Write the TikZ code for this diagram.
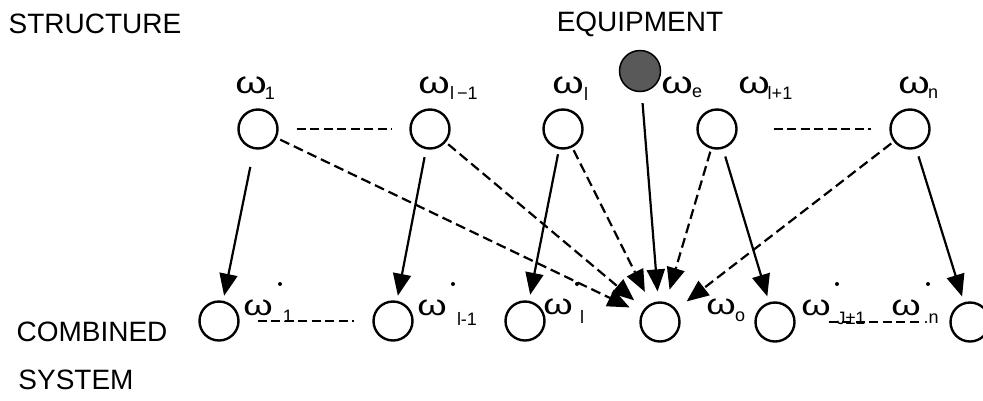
\documentclass[tikz,border=0pt]{standalone}
\usepackage{graphicx}
\usepackage{fontspec}
\setmainfont{Liberation Sans}
\usetikzlibrary{arrows.meta}
\newcommand{\wideomega}{\scalebox{1.3}[1]{ω}}
\begin{document}
\begin{tikzpicture}[x=1pt,y=-1pt,
  state/.style={circle,draw,line width=2.4pt,minimum size=39pt,inner sep=0pt},
  equip/.style={circle,draw,line width=1.5pt,fill=black!65,minimum size=41pt,inner sep=0pt},
  heading/.style={font=\fontsize{28}{30}\selectfont,inner sep=0pt},
  om/.style={font=\fontsize{31}{34}\selectfont,inner sep=0pt},
  omb/.style={font=\fontsize{29}{31}\selectfont,inner sep=0pt},
  sub/.style={font=\fontsize{18}{20}\selectfont,inner sep=0pt},
  dotmark/.style={circle,fill,inner sep=0pt,minimum size=4pt},
  link/.style={line width=2.2pt,-{Triangle[length=22pt,width=18pt]}},
  dlink/.style={link,dash pattern=on 10pt off 5pt},
  dline/.style={line width=2.4pt,dash pattern=on 9pt off 4.5pt}]

\path[use as bounding box] (0,0) rectangle (983,400);

% headings
\node[heading] (hs) at (95,24) {STRUCTURE};
\node[heading] (he) at (640,24) {EQUIPMENT};
\node[heading] (hc) at (92,332) {COMBINED};
\node[heading] (hy) at (76,380) {SYSTEM};

% structure states
\node[state] (t1) at (258,129) {};
\node[state] (t2) at (430,129) {};
\node[state] (t3) at (563,129) {};
\node[state] (t4) at (717,129) {};
\node[state] (t5) at (910,129) {};
% equipment
\node[equip] (e) at (640,71) {};

% combined system states
\node[state] (b1) at (219,321) {};
\node[state] (b2) at (393,321) {};
\node[state] (b3) at (525,321) {};
\node[state] (b0) at (660,322) {};
\node[state] (b4) at (775,322) {};
\node[state] (b5) at (970,322) {};

% top labels
\node[om] (lt1) at (251,85) {\wideomega};
\node[sub] (st1) at (270,93) {1};
\node[om] (lt2) at (434,85) {\wideomega};
\node[sub] (st2) at (464,93) {l\,−1};
\node[om] (lt3) at (568,85) {\wideomega};
\node[sub] (st3) at (586,94) {l};
\node[om] (le) at (677,85) {\wideomega};
\node[sub] (se) at (697,93) {e};
\node[om] (lt4) at (754,85) {\wideomega};
\node[sub] (st4) at (780,93) {l+1};
\node[om] (lt5) at (914,85) {\wideomega};
\node[sub] (st5) at (933,94) {n};

% bottom labels
\node[omb] (lb1) at (258,308) {\wideomega};
\node[dotmark] (d1) at (280,284) {};
\node[sub] (sb1) at (288,316) {1};
\node[omb] (lb2) at (432,308) {\wideomega};
\node[dotmark] (d2) at (453,284) {};
\node[sub] (sb2) at (467,319) {l-1};
\node[omb] (lb3) at (558,307) {\wideomega};
\node[dotmark] (d3) at (577,284) {};
\node[sub] (sb3) at (582,317) {l};
\node[omb] (lb0) at (721,307) {\wideomega};
\node[sub] (sb0) at (740,317) {o};
\node[omb] (lb4) at (816,308) {\wideomega};
\node[dotmark] (d4) at (837,284) {};
\node[sub] (sb4) at (851,318) {J±1};
\node[omb] (lb5) at (906,308) {\wideomega};
\node[dotmark] (d5) at (928,284) {};
\node[sub] (sb5) at (931,319) {.n};

% dashed continuation lines
\draw[dline,shorten <=18pt,shorten >=18pt] (t1) -- (t2);
\draw[dline,shorten <=36pt,shorten >=18pt] (t4) -- (t5);
\draw[dline,shorten <=18pt,shorten >=18pt] (b1) -- (b2);
\draw[dline,shorten <=33pt,shorten >=30pt] (b4) -- (b5);

% direct structure-to-combined links
\draw[link,shorten <=18pt,shorten >=5pt] (t1) -- (b1);
\draw[link,shorten <=8pt,shorten >=5pt] (t2) -- (b2);
\draw[link,shorten <=5pt,shorten >=6pt] (t3) -- (b3);
\draw[link,shorten <=8pt,shorten >=6pt] (t4) -- (b4);
\draw[link,shorten <=8pt,shorten >=6pt] (t5) -- (b5);

% equipment link
\draw[link,shorten <=11pt,shorten >=10pt] (e) -- (b0);

% coupling links into the equipment state
\draw[dlink,shorten <=4pt,shorten >=13pt] (t1) -- (b0);
\draw[dlink,shorten <=3pt,shorten >=13pt] (t2) -- (b0);
\draw[dlink,shorten <=3pt,shorten >=13pt] (t3) -- (b0);
\draw[dlink,shorten <=3pt,shorten >=13pt] (t4) -- (b0);
\draw[dlink,shorten <=3pt,shorten >=13pt] (t5) -- (b0);
\end{tikzpicture}
\end{document}
